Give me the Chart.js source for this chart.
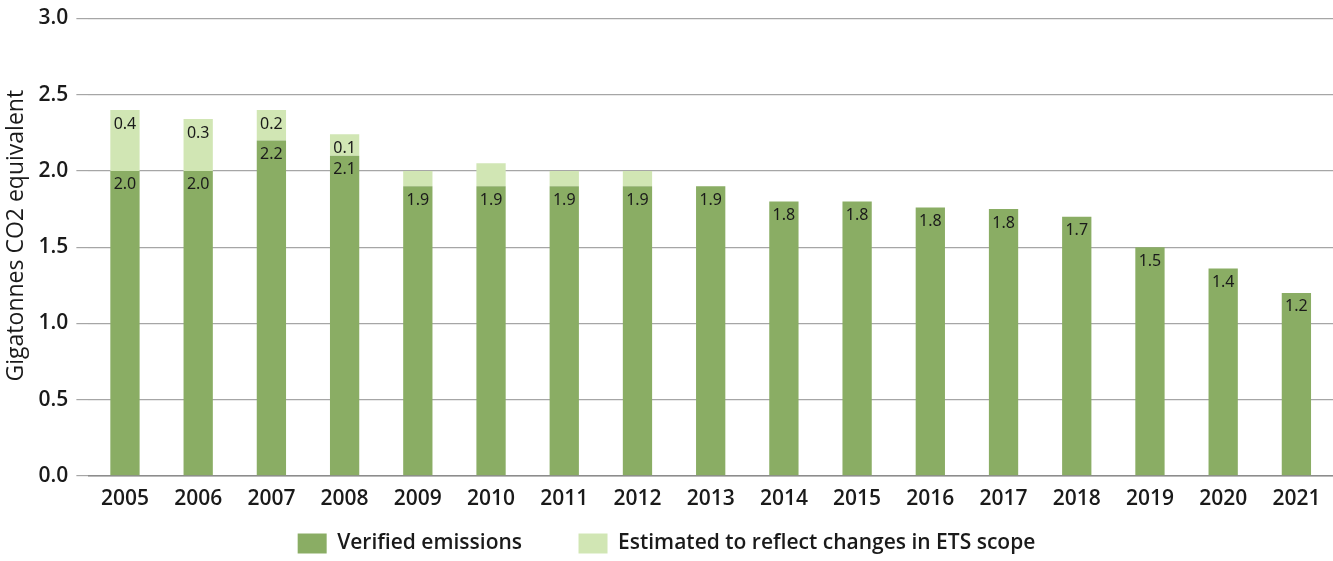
<!DOCTYPE html>
<html>
<head>
<meta charset="utf-8">
<script src="https://cdn.jsdelivr.net/npm/chart.js@4.4.0/dist/chart.umd.min.js"></script>
<style>
  body { margin: 0; background: #fff; }
  #wrap { width: 1333px; height: 561px; }
</style>
</head>
<body>
<div id="wrap"><canvas id="emissionsChart" width="1333" height="561"></canvas></div>
<script>
const years = ['2005', '2006', '2007', '2008', '2009', '2010', '2011', '2012', '2013',
    '2014', '2015', '2016', '2017', '2018', '2019', '2020', '2021'];
const verified = [2.0, 2.0, 2.2, 2.1, 1.9, 1.9, 1.9, 1.9, 1.9, 1.8, 1.8, 1.76, 1.75, 1.7, 1.5, 1.36, 1.2];
const estimated = [0.4, 0.34, 0.2, 0.14, 0.1, 0.15, 0.1, 0.1, 0, 0, 0, 0, 0, 0, 0, 0, 0];
// only these estimate segments carry a value label in the original
const labelledEstimateYears = ['2005', '2006', '2007', '2008'];
const yTicks = [0, 0.5, 1.0, 1.5, 2.0, 2.5, 3.0];

const FONT = '"Open Sans", "Noto Sans", sans-serif';

const barLabels = {
    id: 'barLabels',
    afterDatasetsDraw(chart) {
        const ctx = chart.ctx;
        ctx.save();
        ctx.font = '16px "Noto Sans", sans-serif';
        ctx.fillStyle = '#1a1a1a';
        ctx.textAlign = 'center';
        ctx.textBaseline = 'middle';
        chart.data.datasets.forEach((ds, i) => {
            const meta = chart.getDatasetMeta(i);
            meta.data.forEach((bar, j) => {
                const v = ds.data[j];
                if (!v) return;
                if (i === 1 && !labelledEstimateYears.includes(years[j])) return;
                ctx.fillText(v.toFixed(1), bar.x, bar.y + 14);
            });
        });
        ctx.restore();
    }
};

const ctx = document.getElementById('emissionsChart');

const myChart = new Chart(ctx, {
    type: 'bar',
    data: {
        labels: years,
        datasets: [{
            label: 'Verified emissions',
            data: verified,
            backgroundColor: '#8aad64',
            barPercentage: 0.4,
            categoryPercentage: 1
        }, {
            label: 'Estimated to reflect changes in ETS scope',
            data: estimated,
            backgroundColor: '#d1e6b4',
            barPercentage: 0.4,
            categoryPercentage: 1
        }]
    },
    options: {
        responsive: false,
        animation: false,
        layout: { padding: { top: 2, right: 0, left: 0, bottom: -3 } },
        scales: {
            x: {
                stacked: true,
                grid: { display: false },
                border: { color: '#8c8c8c', width: 1.5 },
                ticks: { color: '#1a1a1a', font: { family: FONT, size: 21, weight: '600' }, padding: 3 }
            },
            y: {
                stacked: true,
                min: 0,
                max: 3,
                afterBuildTicks(axis) { axis.ticks = yTicks.map(v => ({ value: v })); },
                grid: { color: '#a6a6a6', tickColor: '#a6a6a6', lineWidth: 1.2, tickLength: 12 },
                border: { display: false },
                ticks: {
                    color: '#1a1a1a',
                    padding: 8,
                    font: { family: FONT, size: 21, weight: '600', lineHeight: 1 },
                    callback: v => v.toFixed(1)
                },
                title: {
                    display: true,
                    // leading spaces nudge the rotated title upward like the original
                    text: '\u2002\u2002Gigatonnes CO2 equivalent',
                    color: '#1a1a1a',
                    font: { family: FONT, size: 23, weight: '500' },
                    padding: { top: 3, bottom: 0 }
                }
            }
        },
        plugins: {
            legend: {
                position: 'bottom',
                labels: {
                    boxWidth: 29,
                    boxHeight: 20,
                    padding: 18,
                    color: '#1a1a1a',
                    font: { family: FONT, size: 21, weight: '600' },
                    generateLabels(chart) {
                        const items = Chart.defaults.plugins.legend.labels.generateLabels(chart);
                        // widen the gap between the two legend entries
                        items[0].text += '\u2002\u2002\u2002\u2006\u2009';
                        return items;
                    }
                }
            },
            tooltip: { enabled: false }
        }
    },
    plugins: [barLabels]
});
</script>
</body>
</html>
